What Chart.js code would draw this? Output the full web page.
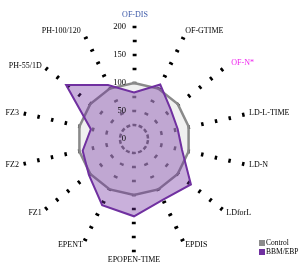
<!DOCTYPE html>
<html><head><meta charset="utf-8">
<script src="https://cdn.jsdelivr.net/npm/chart.js@4.4.1/dist/chart.umd.min.js"></script>
<style>html,body{margin:0;padding:0;background:#fff;overflow:hidden;}#wrap{width:299px;height:264px;}</style>
</head><body><div id="wrap"><canvas id="c" width="299" height="264"></canvas></div>
<script>
const categories = ['OF-DIS','OF-GTIME','OF-N*','LD-L-TIME','LD-N','LDforL','EPDIS','EPOPEN-TIME','EPENT','FZ1','FZ2','FZ3','PH-55/1D','PH-100/120'];
const controlValues = [100,100,100,100,100,100,100,100,100,100,100,100,100,100];
const bbmValues = [83,108,84,80,88,130,120,138,131,103,94,79,155,107];
const seriesNames = ['Control','BBM/EBP'];
const tickValues = [0,50,100,150,200];
const tickLabels = ['0','50','100','150','200'];

const DASH = 4;
function ringPeriod(ctx){
  const r = ctx.scale.getDistanceFromCenterForValue(ctx.tick.value);
  return 2*Math.PI*r/categories.length;
}
const labelColors = {0:'#3b58a8', 2:'#ee22ee'};
const labelNudge = {0:[1,-6], 1:[0,-2], 2:[5,-3], 7:[0,3], 13:[-2,-2]};

const textPlugin = {
  id: 'textPlugin',
  afterDraw(chart){
    const s = chart.scales.r, ctx = chart.ctx;
    ctx.save();
    ctx.fillStyle = '#000';
    ctx.font = '8.5px "Liberation Serif"';
    ctx.textAlign = 'right'; ctx.textBaseline = 'middle';
    tickValues.forEach((v,i)=>{
      const p = s.getPointPosition(0, s.getDistanceFromCenterForValue(v));
      ctx.fillText(tickLabels[i], p.x - 8, p.y);
    });
    ctx.font = '8px "Liberation Serif"';
    categories.forEach((lab,i)=>{
      const a = s.getIndexAngle(i);
      const sn = Math.sin(a);
      const p = s.getPointPosition(i, s.drawingArea + 6);
      const n = labelNudge[i] || [0,0];
      ctx.textAlign = sn > 0.05 ? 'left' : (sn < -0.05 ? 'right' : 'center');
      ctx.fillStyle = labelColors[i] || '#000';
      ctx.fillText(lab, p.x + n[0], p.y + n[1]);
    });
    const cols = ['#8c8c8c','#7030a0'];
    ctx.font = '7.5px "Liberation Serif"';
    ctx.textAlign = 'left';
    seriesNames.forEach((nm,i)=>{
      const y = 240 + i*9;
      ctx.fillStyle = cols[i];
      ctx.fillRect(259, y, 6, 6);
      ctx.fillStyle = '#000';
      ctx.fillText(nm, 266, y + 3);
    });
    ctx.restore();
  }
};

new Chart(document.getElementById('c'), {
  type: 'radar',
  data: {
    labels: categories,
    datasets: [
      { label: seriesNames[0], data: controlValues, borderColor: '#8a8a8a', backgroundColor: 'rgba(225,225,225,0.5)', borderWidth: 2.5, pointRadius: 0, fill: true, order: 2 },
      { label: seriesNames[1], data: bbmValues, borderColor: '#7030a0', backgroundColor: 'rgba(112,48,160,0.38)', borderWidth: 2, pointRadius: 0, fill: true, order: 1 }
    ]
  },
  options: {
    responsive: false,
    animation: false,
    devicePixelRatio: 1,
    layout: { padding: { left: 22, right: 53, top: 27, bottom: 13 } },
    plugins: { legend: { display: false }, tooltip: { enabled: false } },
    elements: { line: { tension: 0 } },
    scales: {
      r: {
        min: 0, max: 200,
        ticks: { display: false, stepSize: 25 },
        pointLabels: { display: false },
        angleLines: { display: false },
        grid: { circular: true, color: '#000', lineWidth: 2.5 },
        border: {
          dash: ctx => { const P = ringPeriod(ctx); return [DASH, Math.max(P - DASH, 0.5)]; },
          dashOffset: ctx => { const P = ringPeriod(ctx); return DASH/2 - P/2; }
        }
      }
    }
  },
  plugins: [textPlugin]
});
</script>
</body></html>
